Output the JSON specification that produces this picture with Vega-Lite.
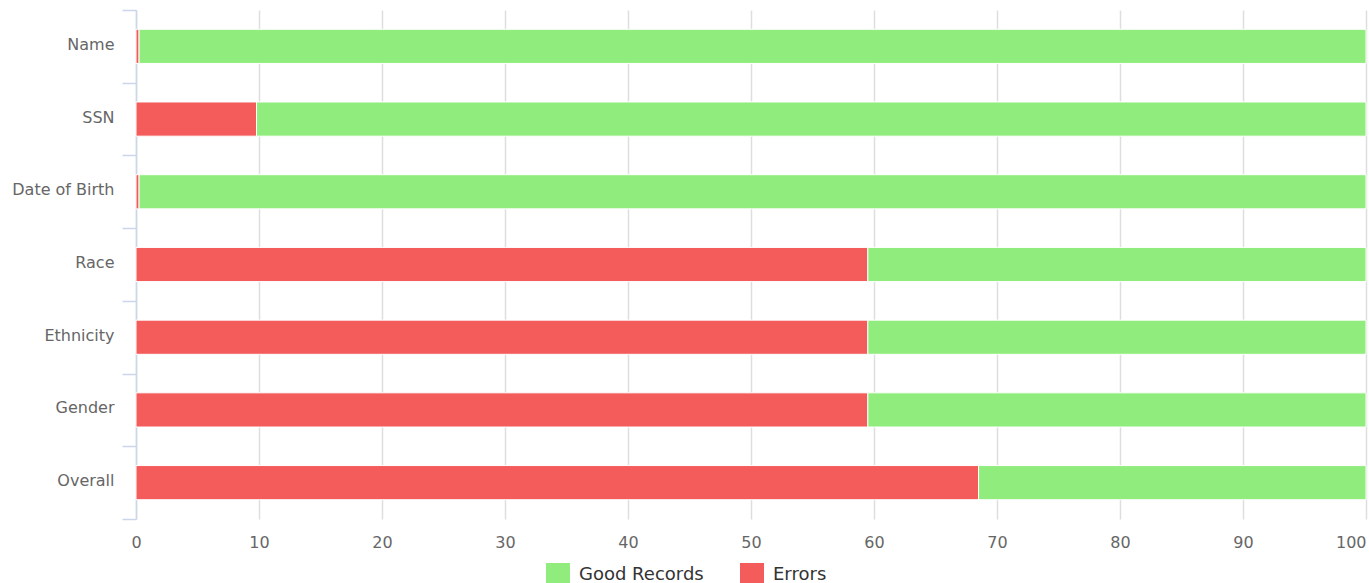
{
  "$schema": "https://vega.github.io/schema/vega-lite/v6.json",
  "autosize": {"type": "none"},
  "padding": {"left": 136, "top": 10, "right": 3, "bottom": 64},
  "width": 1230,
  "height": 509,
  "background": "#ffffff",
  "config": {
    "view": {"stroke": null},
    "font": "DejaVu Sans"
  },
  "data": {
    "values": [
      {"category": "Name", "series": "Errors", "value": 0.25},
      {"category": "Name", "series": "Good Records", "value": 99.75},
      {"category": "SSN", "series": "Errors", "value": 9.8},
      {"category": "SSN", "series": "Good Records", "value": 90.2},
      {"category": "Date of Birth", "series": "Errors", "value": 0.25},
      {"category": "Date of Birth", "series": "Good Records", "value": 99.75},
      {"category": "Race", "series": "Errors", "value": 59.5},
      {"category": "Race", "series": "Good Records", "value": 40.5},
      {"category": "Ethnicity", "series": "Errors", "value": 59.5},
      {"category": "Ethnicity", "series": "Good Records", "value": 40.5},
      {"category": "Gender", "series": "Errors", "value": 59.5},
      {"category": "Gender", "series": "Good Records", "value": 40.5},
      {"category": "Overall", "series": "Errors", "value": 68.5},
      {"category": "Overall", "series": "Good Records", "value": 31.5}
    ]
  },
  "mark": {"type": "bar", "stroke": "#ffffff", "strokeWidth": 1, "height": {"band": 0.47}},
  "encoding": {
    "y": {
      "field": "category",
      "type": "nominal",
      "sort": ["Name", "SSN", "Date of Birth", "Race", "Ethnicity", "Gender", "Overall"],
      "scale": {"paddingInner": 0, "paddingOuter": 0},
      "axis": {
        "title": null,
        "grid": false,
        "domain": true,
        "domainColor": "#ccd6eb",
        "domainWidth": 1.5,
        "ticks": true,
        "tickBand": "extent",
        "tickColor": "#ccd6eb",
        "tickWidth": 1.5,
        "tickSize": 14,
        "labelPadding": 8,
        "labelOffset": -2,
        "labelFont": "DejaVu Sans",
        "labelFontSize": 16,
        "labelColor": "#666666"
      }
    },
    "x": {
      "field": "value",
      "type": "quantitative",
      "stack": "zero",
      "scale": {"domain": [0, 100], "nice": false},
      "axis": {
        "title": null,
        "values": [0, 10, 20, 30, 40, 50, 60, 70, 80, 90, 100],
        "grid": true,
        "gridColor": "#dedede",
        "gridWidth": 1.5,
        "domain": false,
        "ticks": false,
        "tickSize": 0,
        "labelPadding": 15,
        "labelFont": "DejaVu Sans",
        "labelFontSize": 16,
        "labelColor": "#666666",
        "labelFlush": false,
        "labelAlign": {"expr": "datum.value == 100 ? 'right' : 'center'"}
      }
    },
    "color": {
      "field": "series",
      "type": "nominal",
      "scale": {"domain": ["Good Records", "Errors"], "range": ["#90ed7d", "#f45b5b"]},
      "legend": {
        "title": null,
        "orient": "none",
        "legendX": 410,
        "legendY": 553,
        "direction": "horizontal",
        "symbolType": "square",
        "symbolSize": 576,
        "symbolStrokeWidth": 0,
        "labelFont": "DejaVu Sans",
        "labelFontSize": 18,
        "labelColor": "#333333",
        "labelOffset": 9,
        "columnPadding": 36
      }
    },
    "order": {"field": "series", "sort": "ascending"}
  }
}
